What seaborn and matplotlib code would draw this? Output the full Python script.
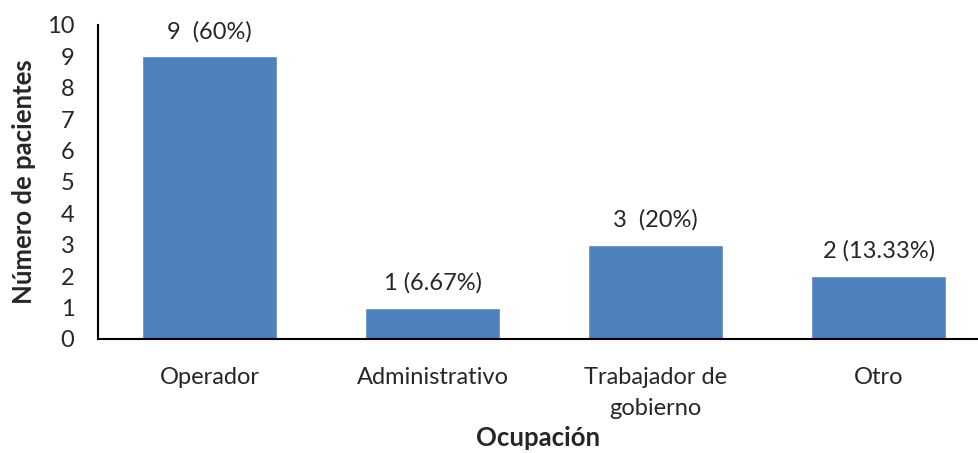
import matplotlib
matplotlib.use("Agg")
import matplotlib.pyplot as plt
import seaborn as sns
import pandas as pd

ocupaciones = ["Operador", "Administrativo", "Trabajador de\ngobierno", "Otro"]
pacientes = [9, 1, 3, 2]
etiquetas = ["9  (60%)", "1 (6.67%)", "3  (20%)", "2 (13.33%)"]

sns.set_style("white")
plt.rcParams["font.family"] = ["Lato", "DejaVu Sans"]

df = pd.DataFrame({"Ocupación": ocupaciones, "Pacientes": pacientes})

fig = plt.figure(figsize=(9.79, 4.53), dpi=100)
ax = fig.add_axes([0.1001, 0.2517, 0.9, 0.6932])

sns.barplot(data=df, x="Ocupación", y="Pacientes", color="#4F81BD",
            saturation=1, width=0.605, ax=ax)

for i, (v, t) in enumerate(zip(pacientes, etiquetas)):
    ax.text(i, v + 0.45, t, ha="center", va="bottom", fontsize=17)

ax.set_xlim(-0.5, 3.45)
ax.set_ylim(0, 10)
ax.set_yticks(range(0, 11))
ax.tick_params(axis="both", length=0, labelsize=17)
ax.tick_params(axis="y", pad=17)
ax.tick_params(axis="x", pad=20)
for lbl in ax.get_xticklabels():
    lbl.set_linespacing(1.6)

for s in ["top", "right"]:
    ax.spines[s].set_visible(False)
for s in ["left", "bottom"]:
    ax.spines[s].set_color("black")
    ax.spines[s].set_linewidth(1.5)

ax.set_ylabel("Número de pacientes", fontsize=18.5, fontweight="bold", labelpad=8)
ax.set_xlabel("Ocupación", fontsize=18.5, fontweight="bold", labelpad=5)

fig.savefig("out.png", dpi=100)
